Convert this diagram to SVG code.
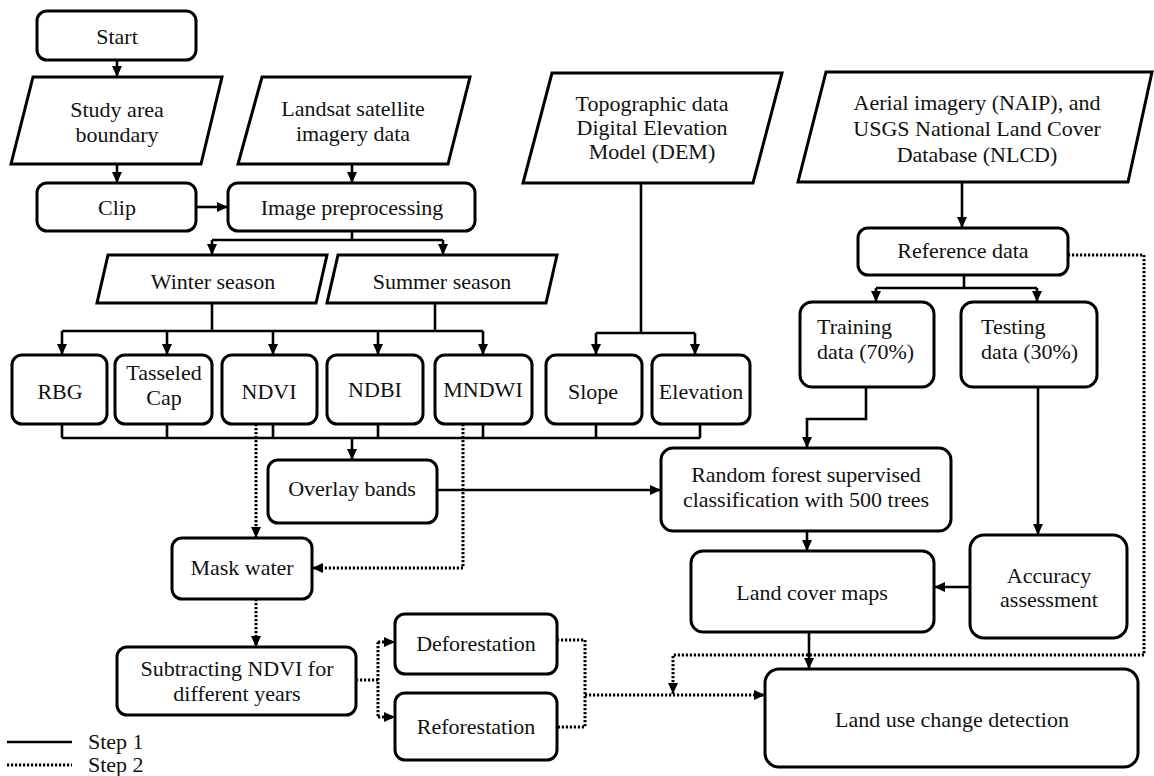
<svg xmlns="http://www.w3.org/2000/svg" width="1154" height="776" viewBox="0 0 1154 776">
<style>
.box{fill:#fff;stroke:#000;stroke-width:3}
.t{font-family:"Liberation Serif","Times New Roman",serif;font-size:22px;fill:#111;text-anchor:middle}
.ts{font-family:"Liberation Serif","Times New Roman",serif;font-size:22px;fill:#111;text-anchor:start}
.c{fill:none;stroke:#000;stroke-width:2.6}
.d{fill:none;stroke:#000;stroke-width:3;stroke-dasharray:2.2 1.8}
</style>
<defs>
<marker id="ah" markerUnits="userSpaceOnUse" markerWidth="12" markerHeight="12" refX="11" refY="6" orient="auto">
<path d="M0,1 L11,6 L0,11 z" fill="#000"/>
</marker>
</defs>
<rect width="1154" height="776" fill="#fff"/>

<g id="connectors">
<path class="c" d="M117,60 V77" marker-end="url(#ah)"/>
<path class="c" d="M117,164 V183" marker-end="url(#ah)"/>
<path class="c" d="M352,164 V183" marker-end="url(#ah)"/>
<path class="c" d="M196,207 H228" marker-end="url(#ah)"/>
<path class="c" d="M352,231 V240 M212,240 H443"/>
<path class="c" d="M212,240 V255" marker-end="url(#ah)"/>
<path class="c" d="M443,240 V255" marker-end="url(#ah)"/>
<path class="c" d="M212,303 V331 M435,303 V331 M62,331 H483"/>
<path class="c" d="M62,331 V355" marker-end="url(#ah)"/>
<path class="c" d="M167,331 V355" marker-end="url(#ah)"/>
<path class="c" d="M273,331 V355" marker-end="url(#ah)"/>
<path class="c" d="M378,331 V355" marker-end="url(#ah)"/>
<path class="c" d="M483,331 V355" marker-end="url(#ah)"/>
<path class="c" d="M641,183 V333 M596,333 H695"/>
<path class="c" d="M596,333 V355" marker-end="url(#ah)"/>
<path class="c" d="M695,333 V355" marker-end="url(#ah)"/>
<path class="c" d="M62,424 V438 M167,424 V438 M273,424 V438 M378,424 V438 M483,424 V438 M596,424 V438 M700,424 V438 M62,438 H700"/>
<path class="c" d="M352,438 V460" marker-end="url(#ah)"/>
<path class="c" d="M437,490 H661" marker-end="url(#ah)"/>
<path class="c" d="M962,182 V228" marker-end="url(#ah)"/>
<path class="c" d="M964,275 V288 M876,288 H1037"/>
<path class="c" d="M876,288 V302" marker-end="url(#ah)"/>
<path class="c" d="M1037,288 V302" marker-end="url(#ah)"/>
<path class="c" d="M866,387 V419 H807 V448" marker-end="url(#ah)"/>
<path class="c" d="M1038,387 V535" marker-end="url(#ah)"/>
<path class="c" d="M807,531 V551" marker-end="url(#ah)"/>
<path class="c" d="M970,587 H934" marker-end="url(#ah)"/>
<path class="c" d="M809,632 V669" marker-end="url(#ah)"/>
<path class="d" d="M256,424 V538" marker-end="url(#ah)"/>
<path class="d" d="M463,424 V568 H312" marker-end="url(#ah)"/>
<path class="d" d="M256,599 V647" marker-end="url(#ah)"/>
<path class="d" d="M356,680 H378 M378,642 V717"/>
<path class="d" d="M378,642 H395" marker-end="url(#ah)"/>
<path class="d" d="M378,717 H395" marker-end="url(#ah)"/>
<path class="d" d="M557,640 H585 V727 H557 M585,695 H765" marker-end="url(#ah)"/>
<path class="d" d="M1068,255 H1144 V655 H673 V694" marker-end="url(#ah)"/>
</g>

<g id="start"><rect class="box" x="37" y="11" width="159" height="49" rx="10"/><text class="t" x="117" y="44">Start</text></g>
<g id="study-area"><polygon class="box" points="33,77 222,77 201,164 11,164"/><text class="t" x="117" y="117">Study area</text><text class="t" x="117" y="142">boundary</text></g>
<g id="landsat"><polygon class="box" points="262,77 470,77 448,164 238,164"/><text class="t" x="353" y="116">Landsat satellite</text><text class="t" x="353" y="141">imagery data</text></g>
<g id="clip"><rect class="box" x="37" y="183" width="159" height="48" rx="10"/><text class="t" x="117" y="215">Clip</text></g>
<g id="image-preprocessing"><rect class="box" x="228" y="183" width="247" height="48" rx="10"/><text class="t" x="352" y="215">Image preprocessing</text></g>
<g id="topographic"><polygon class="box" points="552,73 782,73 753,183 523,183"/><text class="t" x="652" y="111">Topographic data</text><text class="t" x="652" y="135">Digital Elevation</text><text class="t" x="652" y="159">Model (DEM)</text></g>
<g id="aerial"><polygon class="box" points="826,72 1152,72 1128,182 798,182"/><text class="t" x="977" y="110">Aerial imagery (NAIP), and</text><text class="t" x="977" y="136">USGS National Land Cover</text><text class="t" x="977" y="162">Database (NLCD)</text></g>
<g id="winter"><polygon class="box" points="108,255 327,255 316,303 97,303"/><text class="t" x="213" y="289">Winter season</text></g>
<g id="summer"><polygon class="box" points="338,255 557,255 546,303 327,303"/><text class="t" x="442" y="289">Summer season</text></g>
<g id="reference-data"><rect class="box" x="858" y="228" width="210" height="47" rx="10"/><text class="t" x="963" y="258">Reference data</text></g>
<g id="rbg"><rect class="box" x="12" y="355" width="95" height="69" rx="10"/><text class="t" x="60" y="399">RBG</text></g>
<g id="tasseled-cap"><rect class="box" x="115" y="355" width="97" height="69" rx="10"/><text class="t" x="164" y="380">Tasseled</text><text class="t" x="164" y="405">Cap</text></g>
<g id="ndvi"><rect class="box" x="222" y="355" width="95" height="69" rx="10"/><text class="t" x="269" y="399">NDVI</text></g>
<g id="ndbi"><rect class="box" x="327" y="355" width="96" height="69" rx="10"/><text class="t" x="375" y="397">NDBI</text></g>
<g id="mndwi"><rect class="box" x="435" y="355" width="97" height="69" rx="10"/><text class="t" x="483" y="397">MNDWI</text></g>
<g id="slope"><rect class="box" x="546" y="355" width="96" height="69" rx="10"/><text class="t" x="593" y="399">Slope</text></g>
<g id="elevation"><rect class="box" x="652" y="355" width="98" height="69" rx="10"/><text class="t" x="701" y="399">Elevation</text></g>
<g id="training"><rect class="box" x="800" y="302" width="134" height="85" rx="12"/><text class="ts" x="817" y="334">Training</text><text class="ts" x="817" y="359">data (70%)</text></g>
<g id="testing"><rect class="box" x="961" y="302" width="136" height="85" rx="12"/><text class="ts" x="981" y="334">Testing</text><text class="ts" x="981" y="359">data (30%)</text></g>
<g id="overlay-bands"><rect class="box" x="268" y="460" width="169" height="63" rx="10"/><text class="t" x="352" y="496">Overlay bands</text></g>
<g id="random-forest"><rect class="box" x="661" y="448" width="290" height="83" rx="12"/><text class="t" x="806" y="482">Random forest supervised</text><text class="t" x="806" y="507">classification with 500 trees</text></g>
<g id="mask-water"><rect class="box" x="172" y="538" width="140" height="61" rx="10"/><text class="t" x="242" y="575">Mask water</text></g>
<g id="land-cover-maps"><rect class="box" x="691" y="551" width="243" height="81" rx="12"/><text class="t" x="812" y="600">Land cover maps</text></g>
<g id="accuracy"><rect class="box" x="970" y="535" width="157" height="103" rx="14"/><text class="t" x="1049" y="583">Accuracy</text><text class="t" x="1049" y="607">assessment</text></g>
<g id="subtracting"><rect class="box" x="117" y="647" width="239" height="68" rx="10"/><text class="t" x="237" y="676">Subtracting NDVI for</text><text class="t" x="237" y="701">different years</text></g>
<g id="deforestation"><rect class="box" x="395" y="614" width="162" height="60" rx="10"/><text class="t" x="476" y="651">Deforestation</text></g>
<g id="reforestation"><rect class="box" x="395" y="693" width="162" height="67" rx="10"/><text class="t" x="476" y="734">Reforestation</text></g>
<g id="land-use-change"><rect class="box" x="765" y="669" width="373" height="98" rx="14"/><text class="t" x="952" y="727">Land use change detection</text></g>
<g id="legend">
<path class="c" d="M7,742 H72"/><text class="ts" x="88" y="749">Step 1</text>
<path class="d" d="M7,765 H72"/><text class="ts" x="88" y="772">Step 2</text>
</g>
</svg>
